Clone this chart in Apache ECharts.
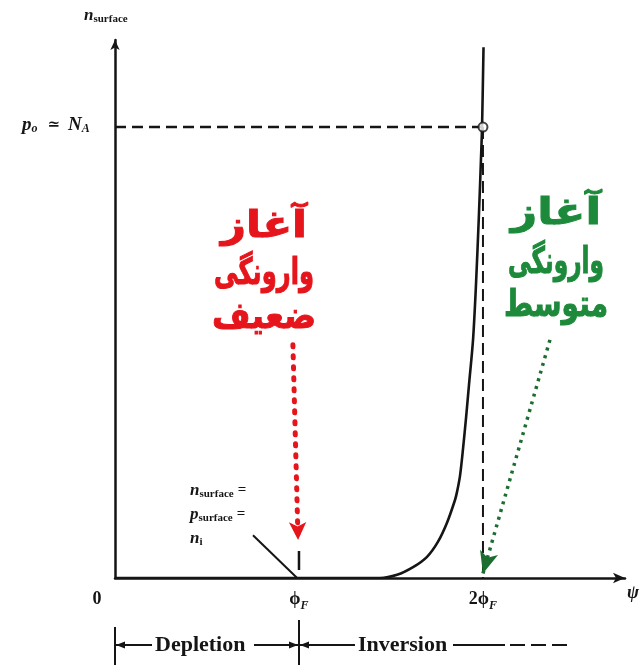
<!DOCTYPE html>
<html><head><meta charset="utf-8">
<script src="https://cdn.jsdelivr.net/npm/echarts@6/dist/echarts.min.js"></script>
<style>html,body{margin:0;background:#fff}#c{width:642px;height:665px}</style>
</head><body><div id="c"></div>
<script>
// Surface potential (units of phi_F) and surface electron density (units of p0)
const psi   = [0, 1.44, 1.533, 1.620, 1.696, 1.755, 1.804, 1.848, 1.859, 1.875, 1.891, 1.908, 1.924, 1.946, 1.962, 1.978, 1.989, 1.995, 2.003];
const nSurf = [0, 0,    0.007, 0.024, 0.047, 0.080, 0.122, 0.173, 0.191, 0.226, 0.284, 0.355, 0.428, 0.528, 0.650, 0.805, 0.927, 1.0,   1.177];
const tickValues = [0, 1, 2];
const tickLabels = ['0', 'ϕF', '2ϕF'];
// reference level p0 ≈ NA and the strong-inversion point
const p0Level = 1;
const strongInv = 2;
// onset markers: weak inversion at phi_F, moderate inversion near 2 phi_F
const weakArrow = [[0.967, 0.517], [0.995, 0.084]];
const modArrow  = [[2.364, 0.528], [2.0, 0.01]];
const leader    = [[0.75, 0.095], [0.99, 0.0]];
const weakLines = ['آغاز', 'وارونگی', 'ضعیف'];
const modLines  = ['آغاز', 'وارونگی', 'متوسط'];

const serif = '"Liberation Serif", "DejaVu Serif", serif';
const chart = echarts.init(document.getElementById('c'));
const black = '#151515';

chart.setOption({
  animation: false,
  backgroundColor: '#fff',
  grid: { left: 115, top: 40, right: 17, bottom: 87 },
  xAxis: {
    type: 'value', min: 0, max: 2.772, interval: 1,
    axisLine: { lineStyle: { color: black, width: 2.5 }, symbol: ['none', 'arrow'], symbolSize: [8, 12] },
    axisTick: { show: false }, splitLine: { show: false },
    axisLabel: {
      margin: 12, showMaxLabel: false, color: black,
      formatter: v => {
        const i = tickValues.indexOf(v);
        if (i < 0) return '';
        const t = tickLabels[i];
        if (t === '0') return '{z|0}';
        return '{m|' + t.slice(0, -1) + '}{s|' + t.slice(-1) + '}';
      },
      rich: {
        z: { fontFamily: serif, fontSize: 18, fontWeight: 'bold', padding: [0, 36, 0, 0] },
        m: { fontFamily: serif, fontSize: 18, fontWeight: 'bold', verticalAlign: 'top' },
        s: { fontFamily: serif, fontSize: 12, fontStyle: 'italic', fontWeight: 'bold', padding: [10, 0, 0, 0] }
      }
    }
  },
  yAxis: {
    type: 'value', min: 0, max: 1.193,
    axisLine: { lineStyle: { color: black, width: 2.5 }, symbol: ['none', 'arrow'], symbolSize: [7, 10] },
    axisTick: { show: false }, splitLine: { show: false }, axisLabel: { show: false }
  },
  series: [
    {
      type: 'line', data: psi.map((x, i) => [x, nSurf[i]]),
      smooth: 0.3, showSymbol: false,
      lineStyle: { color: black, width: 2.6 }, z: 5
    },
    {
      type: 'line', data: [[0, p0Level], [strongInv, p0Level]], showSymbol: false,
      lineStyle: { color: black, width: 2.5, type: [11, 6] }
    },
    {
      type: 'line', data: [[strongInv, p0Level], [strongInv, 0]], showSymbol: false,
      lineStyle: { color: black, width: 2, type: [12, 6] }
    },
    {
      type: 'scatter', data: [[strongInv, p0Level]], symbol: 'circle', symbolSize: 9,
      itemStyle: { color: '#fff', borderColor: black, borderWidth: 2 }, z: 6
    },
    {
      type: 'line', data: [[1, 0.018], [1, 0.06]], showSymbol: false,
      lineStyle: { color: black, width: 2.5 }
    },
    {
      type: 'line', data: [], markLine: {
        silent: true, animation: false, label: { show: false },
        data: [
          [{ coord: weakArrow[0], symbol: 'none', lineStyle: { color: '#e5151b', width: 5, type: [2, 9], cap: 'round' } },
           { coord: weakArrow[1], symbol: 'arrow', symbolSize: [13, 18] }],
          [{ coord: modArrow[0], symbol: 'none', lineStyle: { color: '#1c6e30', width: 3.5, type: [3, 5] } },
           { coord: modArrow[1], symbol: 'arrow', symbolSize: [14, 22] }],
          [{ coord: leader[0], symbol: 'none', lineStyle: { color: black, width: 2, type: 'solid' } },
           { coord: leader[1], symbol: 'none' }]
        ]
      }
    }
  ]
});

const P = (x, y) => chart.convertToPixel({ gridIndex: 0 }, [x, y]);
const x0 = P(0, 0)[0], x1 = P(1, 0)[0];
const yP0 = P(0, p0Level)[1];
const persian = '"DejaVu Sans", sans-serif';
const g = [];
const txt = (x, y, rich, text) => g.push({ type: 'text', x, y, style: { text, rich, fill: black } });

// axis titles
txt(84, 6, {
  n: { fontFamily: serif, fontStyle: 'italic', fontSize: 17, fontWeight: 'bold' },
  s: { fontFamily: serif, fontSize: 11, fontWeight: 'bold', padding: [8, 0, 0, 0] }
}, '{n|n}{s|surface}');
txt(22, yP0 - 12, {
  n: { fontFamily: serif, fontStyle: 'italic', fontSize: 19, fontWeight: 'bold' },
  s: { fontFamily: serif, fontStyle: 'italic', fontSize: 12, fontWeight: 'bold', padding: [8, 0, 0, 0] },
  e: { fontFamily: serif, fontSize: 15, fontWeight: 'bold', padding: [0, 8, 0, 10] }
}, '{n|p}{s|o}{e|≃}{n|N}{s|A}');
g.push({ type: 'text', x: 627, y: 584, style: { text: 'ψ', font: 'italic bold 18px ' + serif, fill: black } });

// n_surface = p_surface = n_i
const rs = {
  n: { fontFamily: serif, fontStyle: 'italic', fontSize: 17, fontWeight: 'bold' },
  s: { fontFamily: serif, fontSize: 11, fontWeight: 'bold', padding: [8, 0, 0, 0] },
  e: { fontFamily: serif, fontSize: 15, fontWeight: 'bold', padding: [0, 0, 0, 4] }
};
txt(190, 481, rs, '{n|n}{s|surface}{e|=}');
txt(190, 505, rs, '{n|p}{s|surface}{e|=}');
txt(190, 529, rs, '{n|n}{s|i}');

// Persian annotations, one text element per line so each can be stretched to width
const persianBlock = (lines, cx, ys, widths, color) => {
  lines.forEach((t, i) => {
    const font = 'bold 30px ' + persian;
    const w = echarts.format.getTextRect ? echarts.format.getTextRect(t, font).width : 0;
    const sx = w ? widths[i] / w : 0.8;
    g.push({ type: 'text', x: cx, y: ys[i], scaleX: sx, scaleY: 1.22,
      style: { text: t, font, fill: color, textAlign: 'center', textVerticalAlign: 'middle',
               stroke: color, lineWidth: 0.8 } });
  });
};
persianBlock(weakLines, 264, [227, 274, 318], [86, 100, 104], '#e5151b');
persianBlock(modLines, 556, [214, 263, 306], [90, 96, 104], '#1c8a3a');

// Depletion / Inversion ranges
const yb = 645;
const ln = (a, b, c, d, w) => g.push({ type: 'line', shape: { x1: a, y1: b, x2: c, y2: d }, style: { stroke: black, lineWidth: w || 2 } });
const head = (x, dir) => g.push({ type: 'polygon', shape: { points: [[x, yb], [x + dir * 9, yb - 3.5], [x + dir * 9, yb + 3.5]] }, style: { fill: black } });
ln(x0, 627, x0, 665, 2);
ln(x1, 620, x1, 665, 2);
ln(x0 + 1, yb, x0 + 37, yb); head(x0 + 1, 1);
ln(x1 - 45, yb, x1 - 1, yb); head(x1 - 1, -1);
ln(x1 + 1, yb, x1 + 56, yb); head(x1 + 1, 1);
g.push({ type: 'text', x: x0 + 40, y: yb, style: { text: 'Depletion', font: 'bold 22px ' + serif, fill: black, textVerticalAlign: 'middle' } });
g.push({ type: 'text', x: x1 + 59, y: yb, style: { text: 'Inversion', font: 'bold 22px ' + serif, fill: black, textVerticalAlign: 'middle' } });
ln(453, yb, 505, yb);
ln(510, yb, 525, yb); ln(531, yb, 546, yb); ln(552, yb, 567, yb);

chart.setOption({ graphic: g });
</script></body></html>
